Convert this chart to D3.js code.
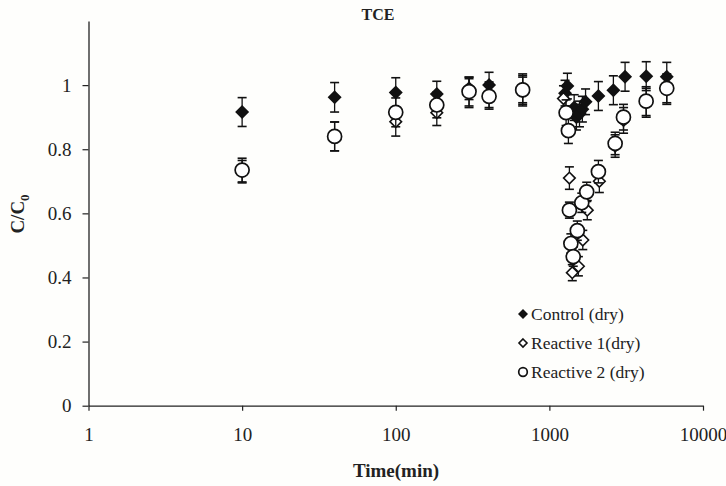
<!DOCTYPE html>
<html>
<head>
<meta charset="utf-8">
<script src="https://cdn.jsdelivr.net/npm/d3@7"></script>
<style>
  html, body { margin: 0; padding: 0; background: #fefefc; }
  svg { display: block; font-family: "Liberation Serif", "Times New Roman", serif; }
</style>
</head>
<body>
<svg id="chart" width="726" height="486"></svg>
<script>
// TCE breakthrough: C/C0 vs time (log scale), three columns
const xTicks = [1, 10, 100, 1000, 10000];
const yTicks = [0, 0.2, 0.4, 0.6, 0.8, 1];

const controlTime  = [10, 40, 100, 185, 300, 405, 670, 1265, 1310, 1450, 1500, 1570, 1640, 1720, 2085, 2610, 3110, 4270, 5810];
const controlValue = [0.916, 0.962, 0.977, 0.972, 0.99, 1.0, 0.99, 0.975, 0.997, 0.93, 0.90, 0.91, 0.925, 0.948, 0.966, 0.984, 1.026, 1.028, 1.026];
const controlErr   = [0.045, 0.046, 0.046, 0.04, 0.035, 0.04, 0.045, 0.04, 0.04, 0.04, 0.04, 0.04, 0.04, 0.04, 0.045, 0.045, 0.045, 0.045, 0.045];

const reactive1Time  = [10, 40, 100, 185, 300, 405, 670, 1235, 1350, 1410, 1545, 1650, 1765, 2115, 2680, 3040, 4270, 5810];
const reactive1Value = [0.73, 0.84, 0.886, 0.914, 0.975, 0.97, 0.98, 0.958, 0.71, 0.415, 0.435, 0.517, 0.61, 0.70, 0.81, 0.89, 0.945, 0.985];
const reactive1Err   = [0.035, 0.045, 0.045, 0.04, 0.045, 0.04, 0.045, 0.04, 0.035, 0.025, 0.03, 0.03, 0.03, 0.035, 0.035, 0.04, 0.045, 0.045];

const reactive2Time  = [10, 40, 100, 185, 300, 405, 670, 1285, 1330, 1350, 1380, 1430, 1520, 1625, 1750, 2085, 2680, 3035, 4265, 5810];
const reactive2Value = [0.735, 0.84, 0.915, 0.938, 0.98, 0.965, 0.985, 0.914, 0.858, 0.61, 0.506, 0.465, 0.546, 0.633, 0.667, 0.73, 0.818, 0.90, 0.95, 0.99];
const reactive2Err   = [0.037, 0.045, 0.045, 0.04, 0.045, 0.04, 0.045, 0.04, 0.04, 0.025, 0.03, 0.03, 0.03, 0.03, 0.03, 0.035, 0.035, 0.04, 0.045, 0.045];

const seriesNames = ["Control (dry)", "Reactive 1(dry)", "Reactive 2 (dry)"];

const svg = d3.select("#chart");
const plotLeft = 88.5, plotRight = 703, plotTop = 21, plotBottom = 405.7;

const x = d3.scaleLog().domain([1, 10000]).range([plotLeft, plotRight]);
const y = d3.scaleLinear().domain([0, 1.2]).range([plotBottom, plotTop]);

// axes
const xAxis = d3.axisBottom(x).tickValues(xTicks).tickFormat(d3.format("d")).tickSize(5).tickSizeOuter(0);
const gx = svg.append("g").attr("transform", `translate(0,${plotBottom})`).call(xAxis);
gx.select(".domain").attr("stroke", "#222").attr("stroke-width", 1.3);
gx.selectAll(".tick line").attr("stroke", "#222").attr("stroke-width", 1.2);
gx.selectAll(".tick text").attr("font-size", 19).attr("fill", "#222").attr("dy", "1.45em")
  .style("font-family", "Liberation Serif");

const yAxis = d3.axisLeft(y).tickValues(yTicks).tickFormat(d => d === 0 || d === 1 ? d3.format("d")(d) : d3.format(".1f")(d)).tickSize(6).tickSizeOuter(0);
const gy = svg.append("g").attr("transform", `translate(${plotLeft},0)`).call(yAxis);
gy.select(".domain").attr("stroke", "#222").attr("stroke-width", 1.3);
gy.selectAll(".tick line").attr("stroke", "#222").attr("stroke-width", 1.2);
gy.selectAll(".tick text").attr("font-size", 19).attr("fill", "#222").attr("x", -17)
  .style("font-family", "Liberation Serif");

// titles
svg.append("text").attr("x", 378).attr("y", 20).attr("text-anchor", "middle")
  .attr("font-size", 16).attr("font-weight", "bold").attr("fill", "#222").text("TCE");
svg.append("text").attr("x", 396).attr("y", 477).attr("text-anchor", "middle")
  .attr("font-size", 19).attr("font-weight", "bold").attr("fill", "#222").text("Time(min)");
const yl = svg.append("text").attr("transform", "translate(24,214) rotate(-90)")
  .attr("text-anchor", "middle").attr("font-size", 19).attr("font-weight", "bold").attr("fill", "#222");
yl.append("tspan").text("C/C");
yl.append("tspan").attr("font-size", 13).attr("dy", 5).text("0");

// markers
const diamond = (r) => `M0,${-r}L${r},0L0,${r}L${-r},0Z`;

function drawSeries(times, values, errs, drawMarker) {
  const g = svg.append("g");
  const pts = times.map((t, i) => ({ t, v: values[i], e: errs[i] }));
  const eb = g.selectAll("g.err").data(pts).join("g").attr("class", "err");
  eb.append("line")
    .attr("x1", d => x(d.t)).attr("x2", d => x(d.t))
    .attr("y1", d => y(d.v + d.e)).attr("y2", d => y(d.v - d.e))
    .attr("stroke", "#111").attr("stroke-width", 1.3);
  [1, -1].forEach(s => {
    eb.append("line")
      .attr("x1", d => x(d.t) - 4.5).attr("x2", d => x(d.t) + 4.5)
      .attr("y1", d => y(d.v + s * d.e)).attr("y2", d => y(d.v + s * d.e))
      .attr("stroke", "#111").attr("stroke-width", 1.6);
  });
  pts.forEach(d => drawMarker(g, x(d.t), y(d.v)));
}

const filledDiamond = (g, cx, cy, r = 7) =>
  g.append("path").attr("d", diamond(r)).attr("transform", `translate(${cx},${cy})`).attr("fill", "#111");
const openDiamond = (g, cx, cy, r = 5.8) =>
  g.append("path").attr("d", diamond(r)).attr("transform", `translate(${cx},${cy})`)
    .attr("fill", "#fff").attr("stroke", "#111").attr("stroke-width", 1.6);
const openCircle = (g, cx, cy, r = 7) =>
  g.append("circle").attr("cx", cx).attr("cy", cy).attr("r", r)
    .attr("fill", "#fff").attr("stroke", "#111").attr("stroke-width", 1.7);

drawSeries(controlTime, controlValue, controlErr, filledDiamond);
drawSeries(reactive1Time, reactive1Value, reactive1Err, openDiamond);
drawSeries(reactive2Time, reactive2Value, reactive2Err, openCircle);

// legend
const legend = svg.append("g");
const legendMarkers = [
  (g, cx, cy) => filledDiamond(g, cx, cy, 5),
  (g, cx, cy) => openDiamond(g, cx, cy, 4),
  (g, cx, cy) => openCircle(g, cx, cy, 4.3)
];
seriesNames.forEach((name, i) => {
  const cy = 314 + i * 29;
  legendMarkers[i](legend, 523, cy);
  legend.append("text").attr("x", 531).attr("y", cy + 6).attr("font-size", 17.5)
    .attr("fill", "#222").text(name);
});
</script>
</body>
</html>
